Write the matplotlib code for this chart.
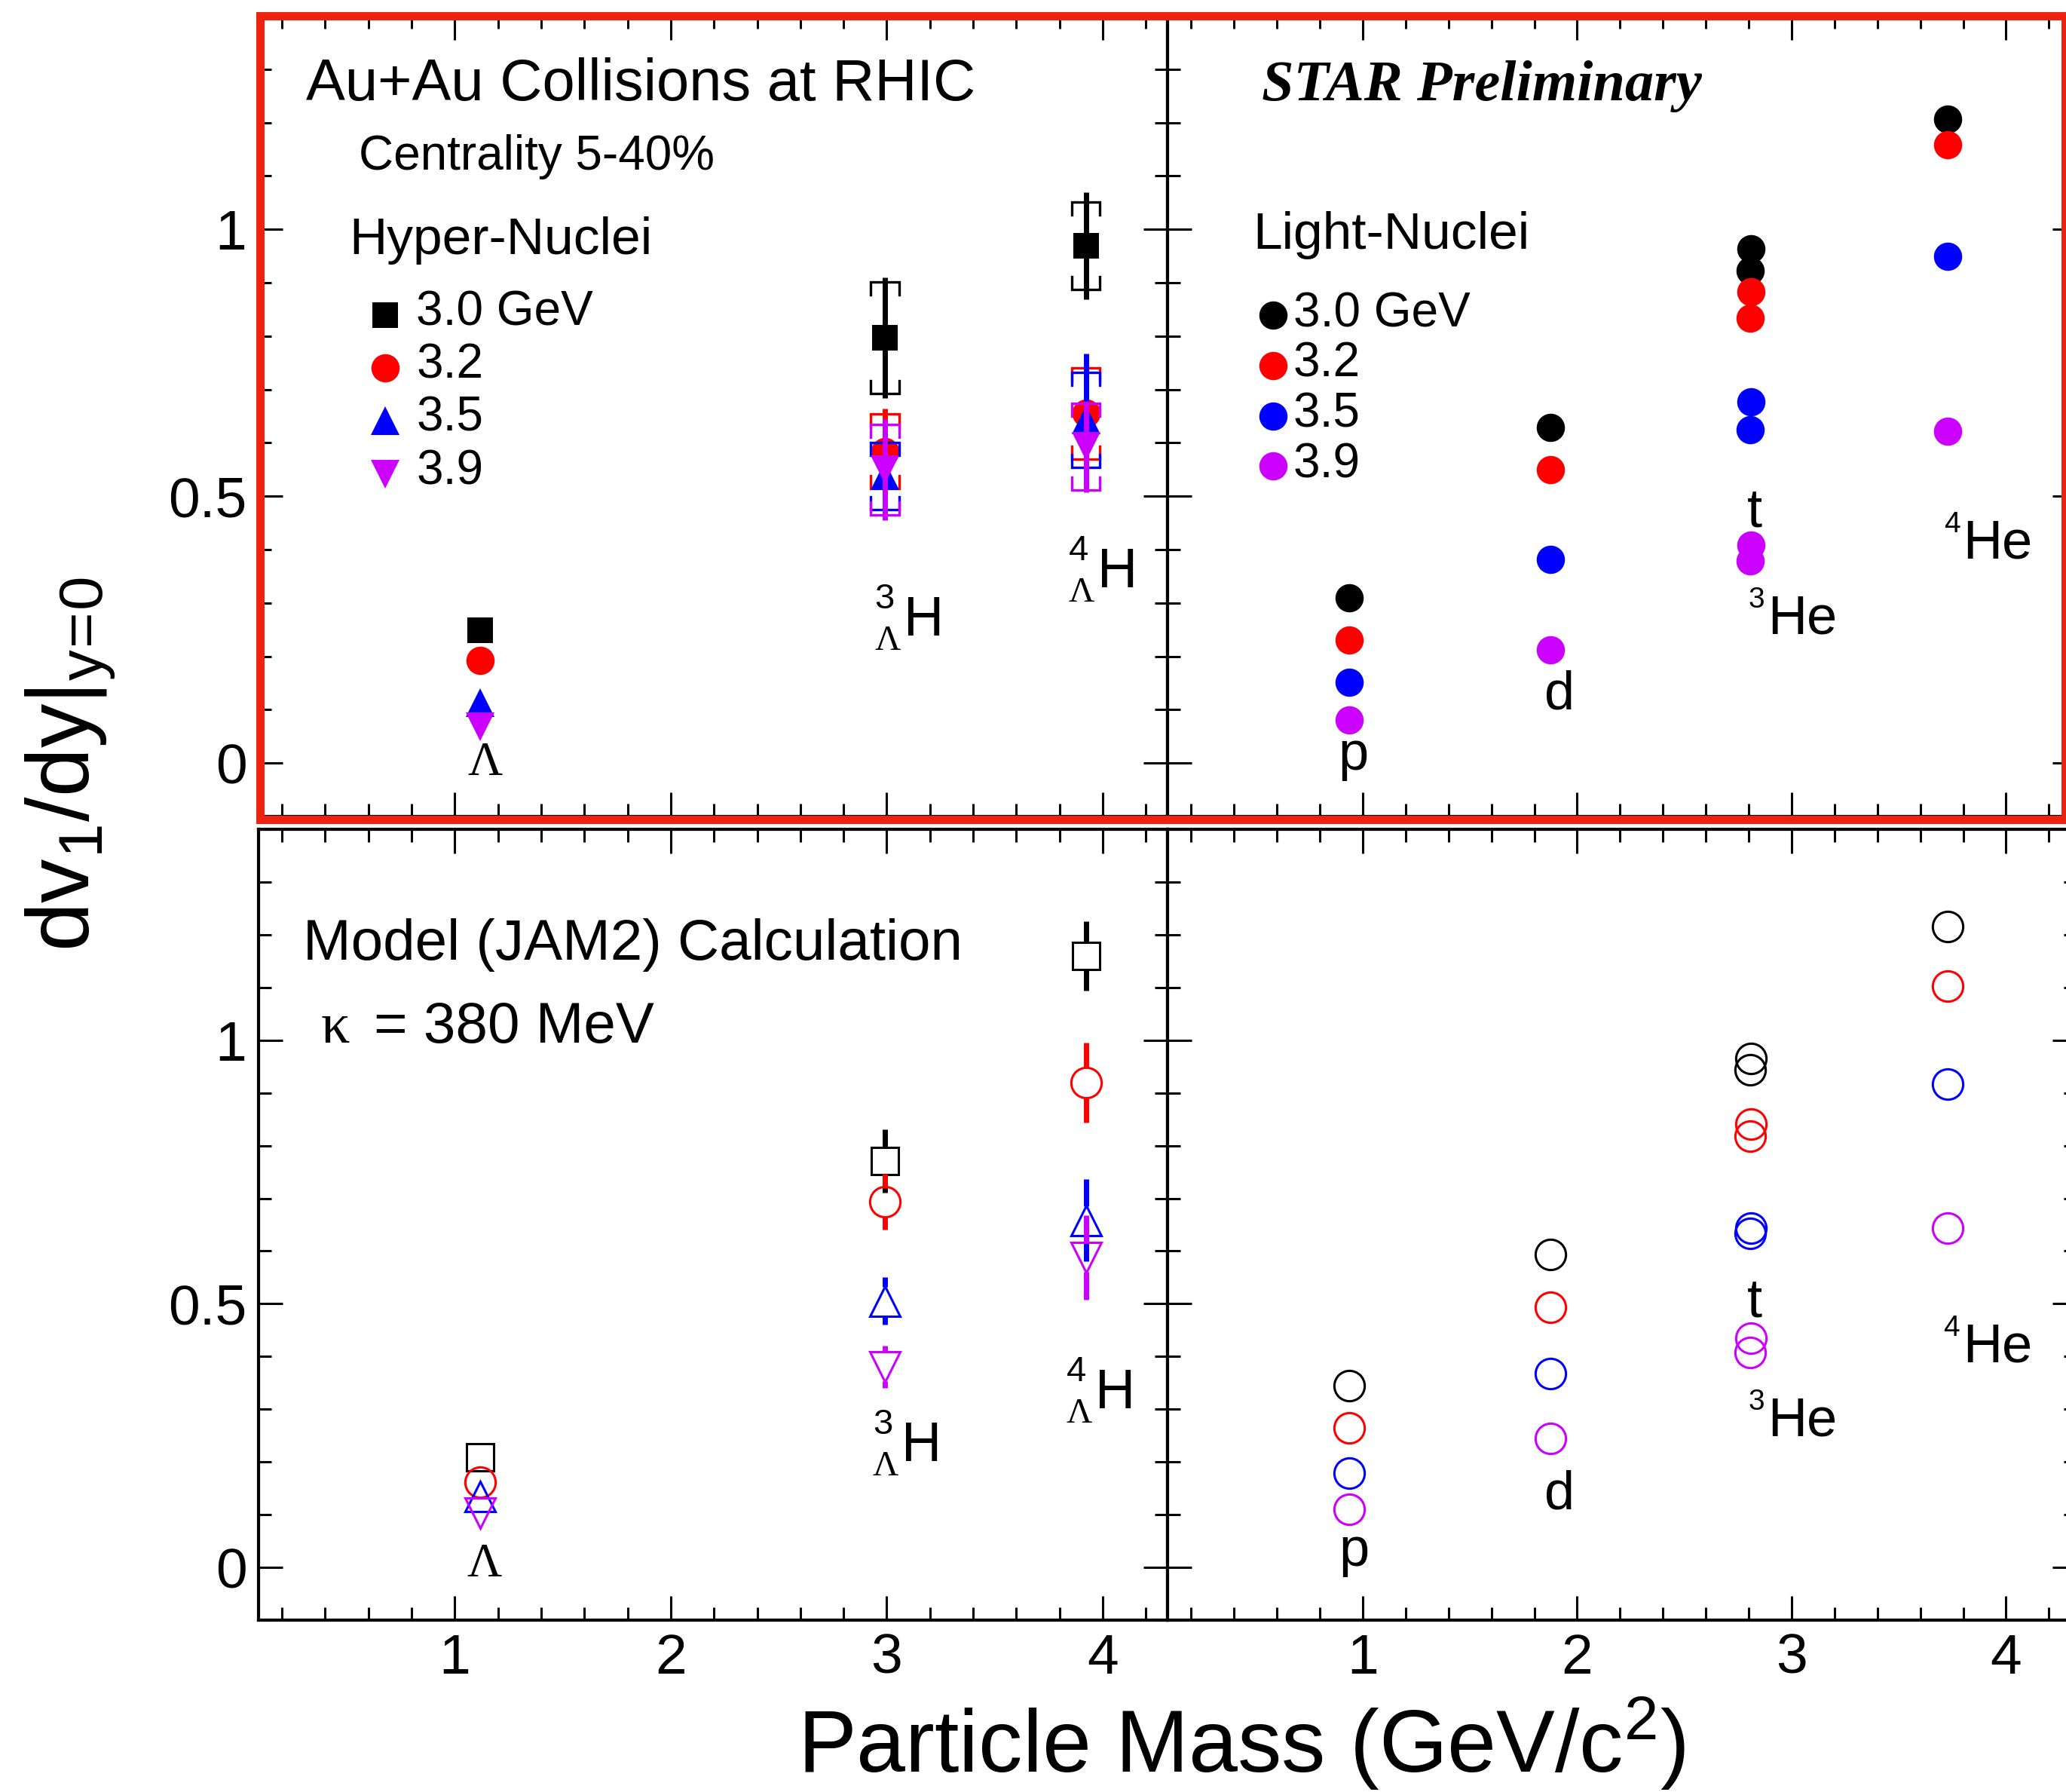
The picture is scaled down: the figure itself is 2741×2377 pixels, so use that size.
import matplotlib
matplotlib.use("Agg")
import matplotlib.pyplot as plt
from matplotlib.patches import Rectangle
from matplotlib.ticker import MultipleLocator, FixedLocator, FuncFormatter
from matplotlib.transforms import offset_copy

plt.rcParams['font.family'] = 'Liberation Sans'
plt.rcParams['mathtext.fontset'] = 'custom'
plt.rcParams['mathtext.rm'] = 'Liberation Sans'
plt.rcParams['mathtext.it'] = 'Liberation Sans:italic'
plt.rcParams['mathtext.bf'] = 'Liberation Sans:bold'

# beam energies and colours
energies = ['3.0 GeV', '3.2', '3.5', '3.9']
colors = ['black', 'red', 'blue', '#cc00ff']
hyper_markers = ['s', 'o', '^', 'v']
hyper_msize = [24, 27, 27, 27]

# particle masses (GeV/c^2)
hyper_mass = [1.1157, 2.9912, 3.9225]                  # Lambda, 3LH, 4LH
light_mass = [0.9383, 1.8756, 2.8089, 2.8084, 3.7274]  # p, d, t, 3He, 4He

# STAR preliminary hyper-nuclei (rows = energies): value, stat, sys
hyper_v = [[0.249, 0.797, 0.969],
           [0.193, 0.584, 0.655],
           [0.113, 0.538, 0.643],
           [0.068, 0.550, 0.593]]
hyper_stat = [[0.0, 0.113, 0.100],
              [0.0, 0.080, 0.090],
              [0.0, 0.070, 0.124],
              [0.0, 0.095, 0.085]]
hyper_sys = [[0.0, 0.105, 0.082],
             [0.0, 0.070, 0.085],
             [0.0, 0.063, 0.089],
             [0.0, 0.085, 0.081]]

# STAR preliminary light nuclei: p, d, t, 3He, 4He
light_v = [[0.310, 0.629, 0.964, 0.923, 1.207],
           [0.230, 0.550, 0.883, 0.833, 1.158],
           [0.151, 0.381, 0.677, 0.625, 0.949],
           [0.081, 0.212, 0.409, 0.379, 0.622]]

# JAM2 model, hyper-nuclei
jam_hyper_v = [[0.209, 0.771, 1.160],
               [0.162, 0.693, 0.920],
               [0.134, 0.505, 0.658],
               [0.103, 0.380, 0.588]]
jam_hyper_err = [[0.0, 0.060, 0.066],
                 [0.0, 0.053, 0.076],
                 [0.0, 0.045, 0.078],
                 [0.0, 0.040, 0.080]]

# JAM2 model, light nuclei
jam_light_v = [[0.344, 0.593, 0.965, 0.944, 1.215],
               [0.264, 0.493, 0.841, 0.818, 1.102],
               [0.179, 0.367, 0.643, 0.634, 0.916],
               [0.110, 0.244, 0.435, 0.407, 0.643]]

fig = plt.figure(figsize=(27.41, 23.77), dpi=100)

L, M, W = 0.12499, 0.56512, 0.44013
ax_tl = fig.add_axes([L, 0.54438, W, 0.44679])
ax_tr = fig.add_axes([M, 0.54438, W, 0.44679])
ax_bl = fig.add_axes([L, 0.09592, W, 0.44131])
ax_br = fig.add_axes([M, 0.09592, W, 0.44131])

fmt = FuncFormatter(lambda v, p: '%g' % v)


def style(ax, xlim, xlab, ylab):
    ax.set_xlim(*xlim)
    ax.set_ylim(-0.1, 1.4)
    ax.xaxis.set_major_locator(FixedLocator([1, 2, 3, 4]))
    ax.xaxis.set_minor_locator(MultipleLocator(0.2))
    ax.yaxis.set_major_locator(FixedLocator([0, 0.5, 1]))
    ax.yaxis.set_minor_locator(MultipleLocator(0.1))
    ax.xaxis.set_major_formatter(fmt)
    ax.yaxis.set_major_formatter(fmt)
    ax.tick_params(which='both', direction='in', top=True, right=True,
                   width=2.2, labelsize=54)
    ax.tick_params(which='major', length=23)
    ax.tick_params(which='minor', length=12)
    ax.tick_params(axis='x', pad=12, labelbottom=xlab)
    ax.tick_params(axis='y', pad=11, labelleft=ylab)
    for s in ax.spines.values():
        s.set_linewidth(3)


style(ax_tl, (0.09, 4.3), False, True)
style(ax_tr, (0.09, 4.33), False, False)
style(ax_bl, (0.09, 4.3), True, True)
style(ax_br, (0.09, 4.33), True, False)


def brackets(ax, x, y, s, c, w=0.065, leg=0.024):
    # ROOT style systematic brackets
    top = y + s
    bot = y - s
    ax.plot([x - w, x - w, x + w, x + w], [top - leg, top, top, top - leg],
            color=c, lw=2.4, solid_joinstyle='miter')
    ax.plot([x - w, x - w, x + w, x + w], [bot + leg, bot, bot, bot + leg],
            color=c, lw=2.4, solid_joinstyle='miter')


def stat_line(ax, x, y, e, c, gap=0.0):
    if e <= gap:
        return
    ax.vlines([x, x], [y + gap, y - e], [y + e, y - gap], colors=c, lw=5)


def hyper_label(ax, x, y, a):
    ax.text(x, y, 'H', fontsize=53, ha='left', va='baseline')
    tr = offset_copy(ax.transData, fig=fig, x=-27.6, y=25.7, units='points')
    ax.text(x, y, a, fontsize=34, ha='left', va='baseline', transform=tr)
    tr = offset_copy(ax.transData, fig=fig, x=-27.6, y=-13.7, units='points')
    ax.text(x, y, 'Λ', fontsize=34, family='Liberation Serif', ha='left',
            va='baseline', transform=tr)


def he_label(ax, x, y, a):
    ax.text(x, y, 'He', fontsize=52, ha='left', va='baseline')
    tr = offset_copy(ax.transData, fig=fig, x=-18.6, y=25, units='points')
    ax.text(x, y, a, fontsize=28, ha='left', va='baseline', transform=tr)


# ---- top left: STAR hyper-nuclei
for i in range(4):
    c = colors[i]
    for j, m in enumerate(hyper_mass):
        if hyper_sys[i][j] > 0:
            brackets(ax_tl, m, hyper_v[i][j], hyper_sys[i][j], c)
        stat_line(ax_tl, m, hyper_v[i][j], hyper_stat[i][j], c)
    ax_tl.plot(hyper_mass, hyper_v[i], ls='none', marker=hyper_markers[i],
               ms=hyper_msize[i], color=c, mec=c, mew=0)

ax_tl.text(0.311, 1.2415, 'Au+Au Collisions at RHIC', fontsize=56)
ax_tl.text(0.556, 1.112, 'Centrality 5-40%', fontsize=46)
ax_tl.text(0.51, 0.954, 'Hyper-Nuclei', fontsize=50)
for i in range(4):
    yb = 0.8206 - i * 0.0993
    ax_tl.plot([0.678], [yb + 0.019], ls='none', marker=hyper_markers[i],
               ms=hyper_msize[i], color=colors[i], mew=0)
    ax_tl.text(0.821, yb, energies[i], fontsize=46, va='baseline')

ax_tl.text(1.140, -0.022, 'Λ', fontsize=46, family='Liberation Serif',
           ha='center', va='baseline')
hyper_label(ax_tl, 3.077, 0.239, '3')
hyper_label(ax_tl, 3.976, 0.330, '4')

# ---- top right: STAR light nuclei
for i in range(4):
    ax_tr.plot(light_mass, light_v[i], ls='none', marker='o', ms=27,
               color=colors[i], mew=0)

ax_tr.text(0.5295, 1.2415, 'STAR Preliminary', fontsize=55,
           family='Liberation Serif', weight='bold', style='italic')
ax_tr.text(0.487, 0.9637, 'Light-Nuclei', fontsize=50)
for i in range(4):
    yb = 0.818 - i * 0.0942
    ax_tr.plot([0.582], [yb + 0.021], ls='none', marker='o', ms=27,
               color=colors[i], mew=0)
    ax_tr.text(0.677, yb, energies[i], fontsize=46, va='baseline')

ax_tr.text(0.955, -0.012, 'p', fontsize=52, ha='center', va='baseline')
ax_tr.text(1.918, 0.1017, 'd', fontsize=52, ha='center', va='baseline')
ax_tr.text(2.827, 0.4435, 't', fontsize=52, ha='center', va='baseline')
he_label(ax_tr, 2.889, 0.2424, '3')
he_label(ax_tr, 3.800, 0.384, '4')

# ---- bottom left: JAM2 hyper-nuclei
for i in range(4):
    c = colors[i]
    for j, m in enumerate(hyper_mass):
        stat_line(ax_bl, m, jam_hyper_v[i][j], jam_hyper_err[i][j], c, gap=0.027)
    ax_bl.plot(hyper_mass, jam_hyper_v[i], ls='none', marker=hyper_markers[i],
               ms=hyper_msize[i] + 2, mfc='none', mec=c, mew=2.2)

ax_bl.text(0.297, 1.153, 'Model (JAM2) Calculation', fontsize=55)
ax_bl.text(0.38, 0.9957, 'κ', fontsize=55, family='Liberation Serif')
ax_bl.text(0.624, 0.9957, '= 380 MeV', fontsize=55)
ax_bl.text(1.137, -0.017, 'Λ', fontsize=46, family='Liberation Serif',
           ha='center', va='baseline')
hyper_label(ax_bl, 3.069, 0.202, '3')
hyper_label(ax_bl, 3.966, 0.302, '4')

# ---- bottom right: JAM2 light nuclei
for i in range(4):
    ax_br.plot(light_mass, jam_light_v[i], ls='none', marker='o', ms=29,
               mfc='none', mec=colors[i], mew=2.2)

ax_br.text(0.96, 0.003, 'p', fontsize=52, ha='center', va='baseline')
ax_br.text(1.918, 0.111, 'd', fontsize=52, ha='center', va='baseline')
ax_br.text(2.827, 0.475, 't', fontsize=52, ha='center', va='baseline')
he_label(ax_br, 2.889, 0.249, '3')
he_label(ax_br, 3.798, 0.390, '4')

# axis titles
fig.text(0.601, 0.0108, 'Particle Mass (GeV/c$^{2}$)', fontsize=84,
         ha='center', va='baseline')
fig.text(0.0431, 0.469, r'$\mathrm{dv_{1}/dy|_{y\!=\!0}}$', fontsize=84,
         rotation=90, rotation_mode='anchor', ha='left', va='baseline')

# red frame around the data panels
fig.add_artist(Rectangle((0.1257, 0.5427), 0.874, 0.4485, transform=fig.transFigure,
                         fill=False, ec='#ee2211', lw=7.9, joinstyle='miter',
                         clip_on=False, zorder=5))

fig.savefig('out.png', dpi=100)
